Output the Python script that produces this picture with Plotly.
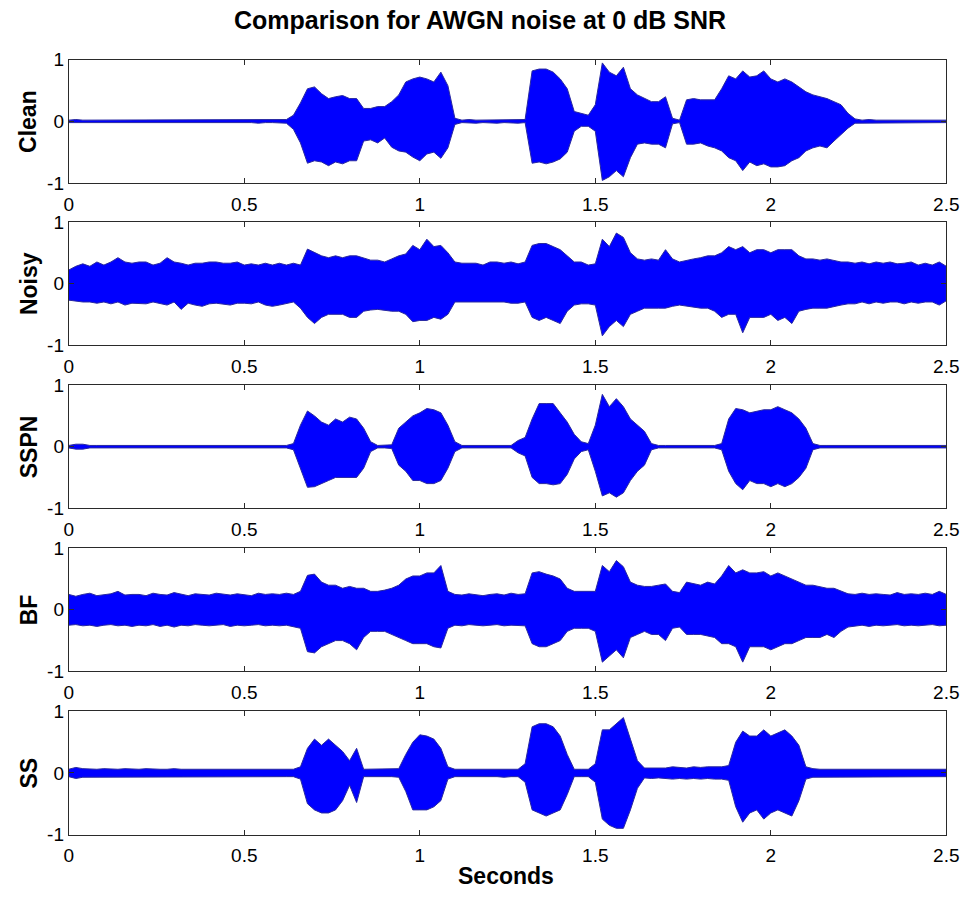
import plotly.graph_objects as go

# ---------------- data (envelopes, every 0.02 s) ----------------
SECONDS = [round(i * 0.02, 2) for i in range(126)]
X_TICKS = [0, 0.5, 1, 1.5, 2, 2.5]
X_TICK_LABELS = ["0", "0.5", "1", "1.5", "2", "2.5"]
Y_TICKS = [-1, 0, 1]
Y_TICK_LABELS = ["-1", "0", "1"]
PANELS = ["Clean", "Noisy", "SSPN", "BF", "SS"]
TITLE = "Comparison for AWGN noise at 0 dB SNR"
X_TITLE = "Seconds"

clean_upper = [
    .02, .03, .02, .02, .03, .02, .02, .03, .02, .02,
    .03, .02, .02, .03, .02, .02, .03, .02, .02, .03,
    .02, .02, .03, .02, .02, .03, .02, .02, .03, .02,
    .02, .03, .10, .30, .53, .56, .45, .37, .40, .42,
    .37, .37, .21, .21, .24, .24, .32, .43, .64, .69,
    .72, .69, .64, .80, .58, .05, .02, .03, .02, .02,
    .03, .02, .02, .03, .02, .03, .82, .85, .85, .80,
    .69, .53, .16, .13, .10, .27, .95, .80, .74, .88,
    .53, .43, .37, .32, .32, .40, .05, .02, .35, .37,
    .35, .35, .35, .53, .74, .69, .82, .72, .74, .82,
    .69, .64, .69, .64, .56, .48, .43, .40, .37, .32,
    .27, .13, .04, .02, .03, .02, .02, .03, .02, .02,
    .03, .02, .02, .03, .02, .02]
clean_lower = [
    -.02, -.02, -.03, -.02, -.02, -.03, -.02, -.02, -.02, -.03,
    -.02, -.02, -.03, -.02, -.02, -.02, -.03, -.02, -.02, -.02,
    -.03, -.02, -.02, -.02, -.03, -.02, -.02, -.03, -.02, -.02,
    -.02, -.03, -.13, -.35, -.68, -.64, -.66, -.72, -.66, -.69,
    -.64, -.64, -.32, -.30, -.35, -.27, -.42, -.48, -.50, -.58,
    -.64, -.53, -.50, -.60, -.43, -.05, -.02, -.02, -.03, -.02,
    -.02, -.03, -.02, -.02, -.03, -.02, -.68, -.66, -.69, -.66,
    -.61, -.50, -.16, -.08, -.08, -.16, -.96, -.90, -.80, -.90,
    -.59, -.37, -.35, -.37, -.37, -.43, -.04, -.02, -.37, -.37,
    -.35, -.40, -.43, -.48, -.59, -.64, -.80, -.66, -.72, -.69,
    -.74, -.74, -.72, -.64, -.59, -.48, -.43, -.40, -.43, -.32,
    -.21, -.11, -.03, -.02, -.02, -.03, -.02, -.02, -.02, -.03,
    -.02, -.02, -.03, -.02, -.02, -.02]

noisy_upper = [
    .22, .28, .32, .28, .35, .30, .35, .42, .35, .33,
    .35, .35, .30, .33, .42, .35, .33, .30, .33, .33,
    .35, .35, .33, .33, .35, .30, .32, .30, .33, .30,
    .33, .30, .33, .30, .56, .50, .45, .42, .45, .42,
    .45, .45, .42, .38, .38, .35, .40, .45, .48, .62,
    .55, .72, .60, .62, .50, .35, .33, .33, .33, .30,
    .35, .35, .33, .35, .32, .35, .62, .65, .65, .60,
    .55, .45, .35, .35, .30, .32, .72, .60, .82, .75,
    .50, .40, .38, .40, .38, .55, .40, .35, .38, .40,
    .42, .45, .45, .50, .60, .55, .60, .50, .55, .55,
    .50, .55, .55, .55, .45, .40, .40, .38, .40, .38,
    .35, .35, .33, .35, .32, .35, .33, .35, .32, .33,
    .35, .30, .33, .30, .35, .28]
noisy_lower = [
    -.27, -.28, -.30, -.30, -.32, -.30, -.33, -.30, -.35, -.32,
    -.33, -.33, -.30, -.33, -.35, -.30, -.42, -.32, -.35, -.37,
    -.33, -.32, -.33, -.35, -.32, -.32, -.33, -.30, -.35, -.37,
    -.35, -.33, -.30, -.40, -.55, -.65, -.55, -.50, -.50, -.50,
    -.55, -.55, -.45, -.43, -.42, -.43, -.45, -.45, -.50, -.62,
    -.60, -.60, -.55, -.58, -.50, -.30, -.30, -.30, -.30, -.30,
    -.30, -.30, -.30, -.32, -.32, -.30, -.55, -.60, -.55, -.60,
    -.65, -.45, -.35, -.33, -.33, -.35, -.85, -.70, -.60, -.70,
    -.50, -.45, -.40, -.40, -.40, -.40, -.37, -.35, -.37, -.38,
    -.40, -.40, -.45, -.55, -.50, -.50, -.80, -.55, -.55, -.55,
    -.50, -.60, -.55, -.65, -.45, -.42, -.40, -.40, -.40, -.37,
    -.35, -.33, -.33, -.30, -.33, -.30, -.32, -.30, -.30, -.33,
    -.30, -.32, -.30, -.30, -.35, -.28]

sspn_upper = [
    .02, .04, .04, .02, .02, .02, .02, .02, .02, .02,
    .02, .02, .02, .02, .02, .02, .02, .02, .02, .02,
    .02, .02, .02, .02, .02, .02, .02, .02, .02, .02,
    .02, .02, .05, .35, .58, .50, .40, .35, .45, .40,
    .48, .45, .30, .08, .02, .02, .03, .30, .40, .50,
    .55, .62, .60, .55, .35, .08, .02, .02, .02, .02,
    .02, .02, .02, .02, .10, .15, .45, .70, .70, .70,
    .55, .40, .20, .08, .05, .35, .85, .65, .78, .65,
    .45, .35, .25, .05, .02, .02, .02, .02, .02, .02,
    .02, .02, .02, .05, .45, .62, .60, .55, .58, .60,
    .60, .65, .60, .55, .45, .30, .05, .02, .02, .02,
    .02, .02, .02, .02, .02, .02, .02, .02, .02, .02,
    .02, .02, .02, .02, .02, .02]
sspn_lower = [
    -.02, -.04, -.04, -.02, -.02, -.02, -.02, -.02, -.02, -.02,
    -.02, -.02, -.02, -.02, -.02, -.02, -.02, -.02, -.02, -.02,
    -.02, -.02, -.02, -.02, -.02, -.02, -.02, -.02, -.02, -.02,
    -.02, -.02, -.05, -.35, -.66, -.65, -.60, -.55, -.50, -.50,
    -.50, -.50, -.35, -.08, -.02, -.02, -.03, -.30, -.40, -.55,
    -.55, -.60, -.60, -.55, -.35, -.08, -.02, -.02, -.02, -.02,
    -.02, -.02, -.02, -.02, -.10, -.15, -.50, -.60, -.60, -.62,
    -.60, -.45, -.20, -.08, -.05, -.40, -.80, -.75, -.82, -.75,
    -.55, -.40, -.30, -.05, -.02, -.02, -.02, -.02, -.02, -.02,
    -.02, -.02, -.02, -.05, -.40, -.60, -.70, -.55, -.60, -.60,
    -.65, -.60, -.65, -.60, -.50, -.35, -.05, -.02, -.02, -.02,
    -.02, -.02, -.02, -.02, -.02, -.02, -.02, -.02, -.02, -.02,
    -.02, -.02, -.02, -.02, -.02, -.02]

bf_upper = [
    .25, .22, .25, .27, .23, .25, .26, .30, .24, .25,
    .25, .23, .27, .25, .24, .28, .25, .23, .26, .25,
    .24, .27, .25, .24, .26, .25, .23, .27, .25, .26,
    .25, .27, .25, .30, .56, .58, .45, .40, .40, .35,
    .38, .35, .35, .30, .30, .32, .35, .40, .50, .55,
    .55, .60, .60, .72, .30, .25, .24, .26, .25, .23,
    .25, .26, .24, .27, .25, .26, .60, .62, .58, .55,
    .50, .35, .30, .30, .30, .30, .72, .62, .80, .70,
    .45, .40, .38, .38, .40, .42, .30, .28, .45, .42,
    .40, .45, .42, .55, .72, .60, .65, .60, .60, .62,
    .55, .60, .55, .50, .45, .40, .40, .38, .35, .35,
    .30, .26, .25, .27, .25, .26, .25, .24, .28, .25,
    .26, .25, .27, .25, .30, .25]
bf_lower = [
    -.25, -.24, -.26, -.25, -.27, -.25, -.24, -.26, -.25, -.27,
    -.25, -.26, -.24, -.27, -.25, -.28, -.25, -.26, -.24, -.25,
    -.26, -.25, -.24, -.27, -.25, -.26, -.25, -.24, -.26, -.25,
    -.26, -.25, -.27, -.30, -.68, -.70, -.60, -.55, -.50, -.50,
    -.55, -.65, -.45, -.35, -.35, -.35, -.40, -.45, -.50, -.55,
    -.55, -.55, -.60, -.62, -.30, -.25, -.26, -.24, -.25, -.26,
    -.25, -.24, -.26, -.25, -.25, -.26, -.55, -.60, -.60, -.55,
    -.50, -.35, -.30, -.30, -.30, -.35, -.85, -.75, -.65, -.78,
    -.45, -.40, -.35, -.40, -.40, -.50, -.30, -.28, -.40, -.40,
    -.40, -.42, -.45, -.55, -.55, -.60, -.85, -.60, -.60, -.60,
    -.65, -.60, -.55, -.55, -.50, -.45, -.45, -.45, -.40, -.45,
    -.35, -.28, -.26, -.25, -.27, -.25, -.26, -.25, -.24, -.26,
    -.25, -.26, -.25, -.24, -.26, -.25]

ss_upper = [
    .06, .09, .07, .06, .06, .07, .06, .06, .07, .06,
    .06, .07, .06, .06, .06, .07, .06, .06, .07, .06,
    .06, .06, .07, .06, .06, .06, .07, .06, .06, .06,
    .06, .06, .06, .10, .40, .55, .45, .55, .45, .35,
    .20, .40, .06, .06, .06, .06, .06, .07, .30, .50,
    .62, .60, .55, .40, .10, .06, .06, .06, .07, .06,
    .06, .06, .06, .06, .06, .15, .75, .80, .80, .75,
    .60, .30, .06, .06, .06, .15, .70, .70, .80, .90,
    .55, .20, .08, .08, .09, .08, .10, .09, .08, .10,
    .09, .10, .10, .10, .12, .50, .68, .60, .60, .70,
    .60, .65, .70, .60, .45, .10, .07, .06, .06, .07,
    .06, .06, .07, .06, .06, .06, .07, .06, .06, .06,
    .06, .07, .06, .06, .07, .06]
ss_lower = [
    -.06, -.09, -.07, -.06, -.06, -.07, -.06, -.06, -.07, -.06,
    -.07, -.06, -.06, -.07, -.06, -.06, -.06, -.07, -.06, -.06,
    -.06, -.07, -.06, -.06, -.07, -.06, -.06, -.06, -.07, -.06,
    -.06, -.06, -.06, -.10, -.50, -.60, -.65, -.65, -.60, -.45,
    -.20, -.48, -.06, -.06, -.06, -.06, -.06, -.07, -.30, -.60,
    -.60, -.60, -.55, -.45, -.10, -.06, -.07, -.06, -.06, -.07,
    -.06, -.06, -.07, -.06, -.06, -.15, -.60, -.65, -.70, -.65,
    -.60, -.35, -.06, -.06, -.06, -.15, -.75, -.85, -.90, -.90,
    -.60, -.25, -.08, -.09, -.08, -.09, -.10, -.09, -.10, -.09,
    -.10, -.09, -.10, -.10, -.12, -.55, -.80, -.65, -.60, -.75,
    -.65, -.60, -.65, -.70, -.45, -.10, -.07, -.06, -.06, -.07,
    -.06, -.07, -.06, -.06, -.07, -.06, -.06, -.07, -.06, -.06,
    -.06, -.06, -.07, -.06, -.06, -.06]

ENVELOPES = [
    (clean_upper, clean_lower),
    (noisy_upper, noisy_lower),
    (sspn_upper, sspn_lower),
    (bf_upper, bf_lower),
    (ss_upper, ss_lower),
]

# ---------------- layout geometry ----------------
W, H = 976, 909
PLOT_LEFT, PLOT_RIGHT = 65, 959
PANEL_TOPS = [51, 217, 384, 551, 718]
PANEL_H = 126
FONT = "Arial, 'Liberation Sans', Helvetica, sans-serif"
FRAME = "#2a2a2a"

fig = go.Figure()
layout = dict(
    width=W, height=H,
    margin=dict(l=0, r=0, t=0, b=0),
    paper_bgcolor="white", plot_bgcolor="white",
    showlegend=False,
    font=dict(family=FONT, color="black"),
    annotations=[],
)

for k, (name, (up, lo)) in enumerate(zip(PANELS, ENVELOPES)):
    n = k + 1
    xa = "x" if n == 1 else f"x{n}"
    ya = "y" if n == 1 else f"y{n}"
    fig.add_trace(go.Scatter(
        x=SECONDS + SECONDS[::-1],
        y=up + lo[::-1],
        xaxis=xa, yaxis=ya,
        mode="lines",
        fill="toself",
        fillcolor="rgb(0,0,255)",
        line=dict(color="rgb(40,40,160)", width=1),
        hoverinfo="skip",
    ))
    top = PANEL_TOPS[k]
    bottom = top + PANEL_H
    ydom = [(H - bottom) / H, (H - top) / H]
    axis_common = dict(
        showline=True, mirror="ticks", linecolor=FRAME, linewidth=1,
        ticks="inside", ticklen=5, tickcolor=FRAME, tickwidth=1,
        showgrid=False, zeroline=False,
        tickfont=dict(family=FONT, size=19, color="black"),
    )
    layout["xaxis" if n == 1 else f"xaxis{n}"] = dict(
        axis_common,
        domain=[PLOT_LEFT / W, PLOT_RIGHT / W],
        range=[0, 2.5], anchor=ya,
        tickvals=X_TICKS, ticktext=X_TICK_LABELS,
        ticklabelstandoff=4,
    )
    layout["yaxis" if n == 1 else f"yaxis{n}"] = dict(
        axis_common,
        domain=ydom,
        range=[-1, 1], anchor=xa,
        tickvals=Y_TICKS, ticktext=Y_TICK_LABELS,
    )
    layout["annotations"].append(dict(
        text=name, xref="paper", yref="paper",
        x=24 / W, y=(H - (top + bottom) / 2) / H,
        xanchor="center", yanchor="middle", textangle=-90, showarrow=False,
        font=dict(family=FONT, size=23, color="black", weight="bold"),
    ))

layout["annotations"].append(dict(
    text=X_TITLE, xref="paper", yref="paper",
    x=510 / W, y=(H - 886) / H, xanchor="center", yanchor="middle",
    showarrow=False, font=dict(family=FONT, size=23, color="black", weight="bold"),
))
layout["title"] = dict(
    text=TITLE, x=484 / W, xanchor="center", xref="paper",
    y=1 - 20 / H, yanchor="middle", yref="container",
    font=dict(family=FONT, size=25, color="black", weight="bold"),
)

fig.update_layout(**layout)
fig.write_html(
    "out.html",
    config={"displayModeBar": False},
    post_script="document.documentElement.style.margin='0';document.body.style.margin='0';"
                "document.body.style.padding='0';"
                "document.documentElement.style.overflow='hidden';document.body.style.overflow='hidden';",
)
